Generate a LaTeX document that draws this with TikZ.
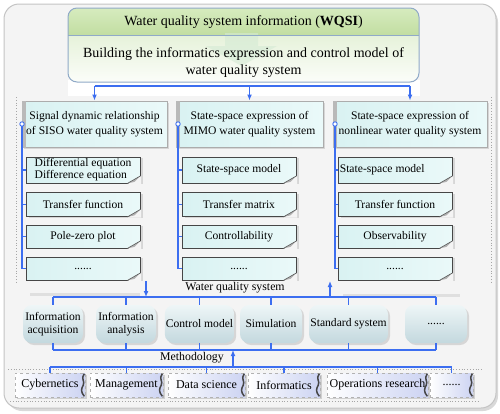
\documentclass[tikz,border=0pt]{standalone}
\usepackage{fontspec}
\setmainfont{Liberation Serif}
\usetikzlibrary{calc,arrows.meta,shadows}
\definecolor{bl}{HTML}{3C6EF0}
\definecolor{bgc}{HTML}{F4F4F4}
\definecolor{frm}{HTML}{C4C4C4}
\definecolor{topbd}{HTML}{90AAC8}
\definecolor{grA}{HTML}{D6EBBE}
\definecolor{grB}{HTML}{C2DEA2}
\definecolor{grC}{HTML}{E6F2DA}
\definecolor{cyA}{HTML}{D9F2F2}
\definecolor{cyB}{HTML}{EAF9F9}
\definecolor{sysA}{HTML}{EEF6F7}
\definecolor{sysB}{HTML}{C3D8DE}
\definecolor{mtB}{HTML}{CCD3F2}
\newcommand\foldcorner[1]{%
  \fill[bgc] ($(#1.south east)+(-13,0.8)$) -- ($(#1.south east)+(0.8,-7.5)$) -- ($(#1.south east)+(0.8,0.8)$) -- cycle;
  \fill[gray!60] ($(#1.south east)+(-13,0)$) -- ($(#1.south east)+(0,-7.5)$) -- ($(#1.south east)+(-6,-1.5)$) -- cycle;
  \draw[gray!70!black,line width=0.6] ($(#1.south east)+(-13,0)$) -- ($(#1.south east)+(0,-7.5)$);}
\newcommand\wavyedge[1]{%
  \draw[gray!55!black,line width=1.5] ($(#1.north east)+(-1,1)$) .. controls +(-4,5) and +(2,-4) .. ($(#1.east)+(-2,0)$) .. controls +(-2,4) and +(-4,-5) .. ($(#1.south east)+(-1,-1)$);}
\begin{document}
\begin{tikzpicture}[x=1pt,y=-1pt,
  body/.style={font=\fontsize{11.6}{13}\selectfont},
  blueline/.style={draw=bl,line width=1.3},
  arr/.style={blueline,-{Latex[length=6pt,width=5pt]}},
  hdr/.style={body,draw=gray!65,line width=1,left color=cyA,right color=cyB,align=center,
    minimum height=46pt,inner sep=1pt,
    drop shadow={shadow xshift=2pt,shadow yshift=-2pt,opacity=0.25}},
  subbox/.style={body,draw=gray!55!black,line width=0.8,left color=cyA,right color=cyB,align=center,
    minimum width=114pt,inner sep=1pt,
    drop shadow={shadow xshift=3pt,shadow yshift=-1pt,opacity=0.25}},
  sysbox/.style={body,draw=none,top color=sysA,bottom color=sysB,rounded corners=9pt,align=center,
    minimum height=38pt,inner sep=1pt,
    drop shadow={shadow xshift=2pt,shadow yshift=-2pt,opacity=0.25}},
  mbox/.style={font=\fontsize{12}{13}\selectfont,draw=gray!60,dashed,line width=0.6,left color=white,right color=mtB,
    minimum height=24pt,inner sep=1pt,
    drop shadow={shadow xshift=1.5pt,shadow yshift=-1.5pt,opacity=0.3}},
  lbl/.style={font=\fontsize{11.8}{13}\selectfont,inner sep=1pt},
  dotline/.style={draw=gray!70,dotted,line width=0.8}]
\useasboundingbox (0,0) rectangle (500,413);
% outer frame
\fill[gray!30,rounded corners=15pt] (7,7) rectangle (498,411);
\draw[fill=bgc,draw=frm,line width=1,rounded corners=15pt] (4,4) rectangle (496,408);
% panel under top box
\fill[white] (68,80) rectangle (420,96);
% dotted guide lines
\draw[dotline] (16,97) -- (16,284);
\draw[dotline] (491,97) -- (491,284);
\draw[dotline] (8,369) -- (482,369);
\draw[dotline] (10,401) -- (480,401);
% top box
\begin{scope}
\clip[rounded corners=9pt] (68,8) rectangle (419,82);
\fill[top color=grA,bottom color=grB] (68,8) rectangle (419,35);
\fill[top color=grC,bottom color=white!85!grC] (68,35) rectangle (419,82);
\fill[green!35!gray!25,opacity=0.6] (225,33) -- (258,33) -- (258,46) -- (277,46) -- (241.5,66) -- (206,46) -- (225,46) -- cycle;
\end{scope}
\draw[topbd,line width=1] (68,35) -- (419,35);
\node[draw=topbd,line width=1,rounded corners=9pt,minimum width=351pt,minimum height=74pt,inner sep=0pt] (top) at (243.5,45) {};
\node[font=\fontsize{14}{16}\selectfont,inner sep=0pt] (ttl) at (243.5,22) {Water quality system information (\textbf{WQSI})};
\node[font=\fontsize{14}{17}\selectfont,align=center,inner sep=0pt] (bld) at (243.5,63) {Building the informatics expression and control model of\\water quality system};
% column headers
\node[hdr,minimum width=145pt] (h1) at (94.5,124) {Signal dynamic relationship\\[1.5pt]of SISO water quality system};
\node[hdr,minimum width=147pt] (h2) at (249.5,124) {State-space expression of\\[1.5pt]MIMO water quality system};
\node[hdr,minimum width=154pt] (h3) at (410,124) {State-space expression of\\[1.5pt]nonlinear water quality system};
\foreach \h in {h1,h2,h3}{\fill[gray!55] (\h.north west) rectangle ($(\h.south west)+(4.5,0)$);}
% bus from top box
\coordinate (bt1) at (94.5,86);
\coordinate (bt3) at (410,86);
\draw[blueline] (bt1) -- (bt3);
\draw[arr] (bt1) -- (h1.north);
\draw[arr] (h2.north |- bt1) -- (h2.north);
\draw[arr] (bt3) -- (h3.north);
% sub boxes
\foreach \c/\x in {1/83,2/239,3/395}{
  \node[subbox,minimum height=26pt] (s\c1) at (\x,170) {};
  \node[subbox,minimum height=24pt] (s\c2) at (\x,204.5) {};
  \node[subbox,minimum height=23pt] (s\c3) at (\x,236.5) {};
  \node[subbox,minimum height=23pt] (s\c4) at (\x,268.5) {};
}
\node[body,align=left,inner sep=0pt,font=\fontsize{11.6}{12}\selectfont] at (s11) {Differential equation\\Difference equation};
\node[body,inner sep=0pt] at (s12) {Transfer function};
\node[body,inner sep=0pt] at (s13) {Pole-zero plot};
\node[body,inner sep=0pt] at (s14) {......};
\node[body,inner sep=0pt] at (s21) {State-space model};
\node[body,inner sep=0pt] at (s22) {Transfer matrix};
\node[body,inner sep=0pt] at (s23) {Controllability};
\node[body,inner sep=0pt] at (s24) {......};
\node[body,inner sep=0pt,anchor=west] at ($(s31.west)+(2,0)$) {State-space model};
\node[body,inner sep=0pt] at (s32) {Transfer function};
\node[body,inner sep=0pt] at (s33) {Observability};
\node[body,inner sep=0pt] at (s34) {......};
\foreach \c in {1,2,3}{\foreach \r in {1,2,3,4}{\foreach \n in {s\c\r}{\foldcorner{\n}}}}
% column tree lines
\foreach \c/\lx in {1/22,2/178,3/335}{
  \coordinate (t\c) at (\lx,124);
  \draw[blueline] (t\c) -- (\lx,268.5) -- (s\c4.west);
  \foreach \r in {1,2,3}{\draw[blueline] (s\c\r.west -| t\c) -- (s\c\r.west);}
  \draw[bl,line width=0.9,fill=white] (t\c) circle (2.2pt);
}
% water quality system
\node[lbl] (wqs) at (235,288) {Water quality system};
\draw[gray!25,line width=3] (30,294) -- (140,294);
\draw[gray!25,line width=3] (343,295) -- (460,295);
\node[sysbox,minimum width=60pt] (w1) at (53,324) {Information\\acquisition};
\node[sysbox,minimum width=60pt] (w2) at (126,324) {Information\\analysis};
\node[sysbox,minimum width=67pt] (w3) at (199.5,324) {Control model};
\node[sysbox,minimum width=62pt] (w4) at (271,324) {Simulation};
\node[sysbox,minimum width=79pt] (w5) at (348.5,324) {Standard system};
\node[sysbox,minimum width=62pt] (w6) at (436,324) {......};
\coordinate (wt) at (0,297);
\coordinate (wb) at (0,350);
\draw[blueline] (w1.north |- wt) -- (w6.north |- wt);
\draw[blueline] (w1.south |- wb) -- (w6.south |- wb);
\foreach \w in {w1,w2,w3,w4,w5,w6}{
  \draw[blueline] (\w.north |- wt) -- (\w.north);
  \draw[blueline] (\w.south |- wb) -- (\w.south);}
\coordinate (a1s) at (146,281);
\coordinate (a3e) at (330,281);
\draw[arr] (a1s) -- (a1s |- wt);
\draw[arr] (a3e |- wt) -- (a3e);
% methodology
\node[lbl] (meth) at (192,358) {Methodology};
\coordinate (mt) at (0,367);
\node[mbox,minimum width=70pt] (m1) at (50,385) {Cybernetics};
\node[mbox,minimum width=73pt] (m2) at (126.5,385) {Management};
\node[mbox,minimum width=77pt] (m3) at (206.5,385) {Data science};
\node[mbox,minimum width=72pt] (m4) at (284,385) {Informatics};
\node[mbox,minimum width=101pt] (m5) at (377.5,385) {Operations research};
\node[mbox,minimum width=43pt] (m6) at (451.5,385) {......};
\foreach \m in {m1,m2,m3,m4,m5,m6}{\wavyedge{\m}}
\draw[blueline] (m1.north |- mt) -- (m6.north |- mt);
\foreach \m in {m1,m2,m3,m4,m5,m6}{\draw[blueline] (\m.north |- mt) -- (\m.north);}
\coordinate (ma) at (233,367);
\draw[arr] (ma) -- (ma |- wb);
\end{tikzpicture}
\end{document}
